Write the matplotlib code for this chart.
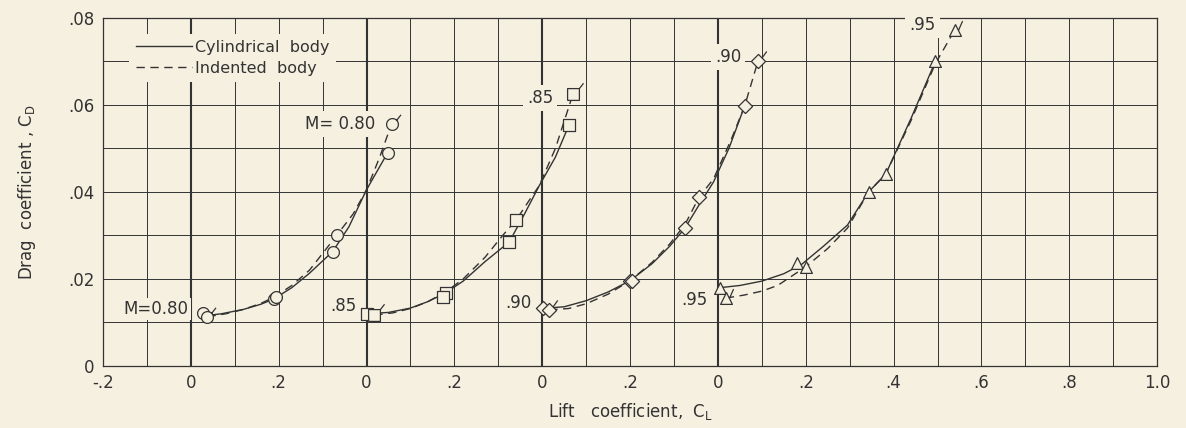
import numpy as np
import matplotlib
matplotlib.use("Agg")
import matplotlib.pyplot as plt
from matplotlib.path import Path

BG = "#f6f0e0"
INK = "#333333"

plt.rcParams['font.family'] = ['DejaVu Sans']
plt.rcParams['mathtext.default'] = 'regular'

# Mach numbers and the shift of each curve's CL origin along the axis
mach_names = ["0.80", "0.85", "0.90", "0.95"]
cl_shift = [0.0, 0.4, 0.8, 1.2]

# test points (CL measured from each curve's own origin)
cl_pts_cyl = [[0.027, 0.189, 0.323, 0.448],
              [0.000, 0.180, 0.325, 0.461],
              [0.002, 0.200, 0.325, 0.461],
              [0.005, 0.180, 0.343, 0.495]]
cd_pts_cyl = [[0.0122, 0.0154, 0.0263, 0.0490],
              [0.0120, 0.0168, 0.0285, 0.0554],
              [0.0133, 0.0196, 0.0317, 0.0598],
              [0.0180, 0.0237, 0.0400, 0.0700]]
cl_pts_ind = [[0.038, 0.195, 0.332, 0.457],
              [0.018, 0.175, 0.341, 0.470],
              [0.016, 0.205, 0.357, 0.491],
              [0.018, 0.200, 0.382, 0.539]]
cd_pts_ind = [[0.0113, 0.0158, 0.0300, 0.0556],
              [0.0117, 0.0159, 0.0336, 0.0625],
              [0.0129, 0.0196, 0.0388, 0.0700],
              [0.0156, 0.0228, 0.0441, 0.0772]]

# faired curves
cl_fair_cyl = [[0.03, 0.07, 0.12, 0.16, 0.189, 0.23, 0.27, 0.323, 0.36, 0.40, 0.448],
               [0.0, 0.05, 0.10, 0.14, 0.18, 0.22, 0.27, 0.325, 0.36, 0.393, 0.43, 0.461],
               [0.01, 0.05, 0.10, 0.15, 0.20, 0.25, 0.29, 0.325, 0.357, 0.39, 0.425, 0.461],
               [0.005, 0.05, 0.10, 0.15, 0.19, 0.24, 0.295, 0.343, 0.382, 0.44, 0.495]]
cd_fair_cyl = [[0.0115, 0.0120, 0.0130, 0.0142, 0.0154, 0.0180, 0.0213, 0.0263, 0.0320, 0.0405, 0.0490],
               [0.0120, 0.0123, 0.0133, 0.0148, 0.0168, 0.0195, 0.0240, 0.0285, 0.0350, 0.0414, 0.0480, 0.0554],
               [0.0133, 0.0136, 0.0150, 0.0170, 0.0196, 0.0235, 0.0275, 0.0317, 0.0370, 0.0423, 0.0500, 0.0598],
               [0.0180, 0.0185, 0.0195, 0.0212, 0.0233, 0.0275, 0.0324, 0.0400, 0.0441, 0.0570, 0.0700]]
cl_fair_ind = [[0.038, 0.08, 0.12, 0.16, 0.189, 0.23, 0.27, 0.305, 0.332, 0.37, 0.40, 0.43, 0.457],
               [0.018, 0.06, 0.10, 0.14, 0.18, 0.22, 0.27, 0.31, 0.341, 0.37, 0.393, 0.43, 0.47],
               [0.016, 0.06, 0.10, 0.15, 0.20, 0.25, 0.29, 0.325, 0.357, 0.39, 0.43, 0.461, 0.491],
               [0.018, 0.06, 0.10, 0.136, 0.20, 0.25, 0.295, 0.343, 0.382, 0.44, 0.495, 0.539]]
cd_fair_ind = [[0.0113, 0.0120, 0.0130, 0.0144, 0.0158, 0.0185, 0.0220, 0.0265, 0.0300, 0.0350, 0.0405, 0.0480, 0.0556],
               [0.0117, 0.0122, 0.0132, 0.0148, 0.0170, 0.0200, 0.0250, 0.0300, 0.0336, 0.0380, 0.0414, 0.0500, 0.0625],
               [0.0129, 0.0132, 0.0143, 0.0165, 0.0196, 0.0238, 0.0280, 0.0325, 0.0388, 0.0430, 0.0520, 0.0598, 0.0700],
               [0.0156, 0.0163, 0.0172, 0.0185, 0.0228, 0.0270, 0.0317, 0.0400, 0.0441, 0.0565, 0.0695, 0.0772]]

# curve labels: (rel CL, CD) bottom and top
bot_lab_pos = [(-0.005, 0.0132), (-0.023, 0.0138), (-0.025, 0.0145), (-0.023, 0.0152)]
top_lab_pos = [(0.42, 0.0556), (0.395, 0.0616), (0.423, 0.0710), (0.466, 0.0784)]
bot_lab_txt = ["M=0.80", ".85", ".90", ".95"]
top_lab_txt = ["M= 0.80", ".85", ".90", ".95"]

xtick_pos = [-0.2, 0.0, 0.2, 0.4, 0.6, 0.8, 1.0, 1.2, 1.4, 1.6, 1.8, 2.0, 2.2]
xtick_lab = ['-.2', '0', '.2', '0', '.2', '0', '.2', '0', '.2', '.4', '.6', '.8', '1.0']
ytick_pos = [0, 0.02, 0.04, 0.06, 0.08]
ytick_lab = ['0', '.02', '.04', '.06', '.08']


def shape_verts(kind):
    if kind == 'o':
        t = np.linspace(0, 2 * np.pi, 41)
        return np.column_stack([0.5 * np.cos(t), 0.5 * np.sin(t)]), (0.35, 0.35), (0.72, 0.82)
    if kind == 's':
        v = np.array([[-.5, -.5], [.5, -.5], [.5, .5], [-.5, .5], [-.5, -.5]])
        return v, (0.5, 0.5), (0.85, 0.95)
    if kind == 'D':
        r = 0.6
        v = np.array([[0, -r], [r, 0], [0, r], [-r, 0], [0, -r]])
        return v, (0.3, 0.3), (0.7, 0.85)
    v = np.array([[0, .5], [-.5, -.5], [.5, -.5], [0, .5]])
    return v, (0.25, 0.0), (0.6, 0.8)


def flagged_marker(kind):
    v, a, b = shape_verts(kind)
    codes = [Path.MOVETO] + [Path.LINETO] * (len(v) - 1) + [Path.MOVETO, Path.LINETO]
    verts = np.vstack([v, [a, b]])
    return Path(verts, codes), 2 * np.abs(verts).max()


def plain_marker(kind):
    v, a, b = shape_verts(kind)
    codes = [Path.MOVETO] + [Path.LINETO] * (len(v) - 1)
    return Path(v, codes), 2 * np.abs(v).max()


kinds = ['o', 's', 'D', '^']
ms = 8.5

fig = plt.figure(figsize=(11.86, 4.28), dpi=100, facecolor=BG)
ax = fig.add_axes([0.0868, 0.145, 0.8889, 0.813])
ax.set_facecolor(BG)
ax.set_xlim(-0.2, 2.2)
ax.set_ylim(0, 0.08)

for x in np.arange(-0.2, 2.201, 0.1):
    lw = 1.5 if any(abs(x - s) < 1e-6 for s in cl_shift) else 0.7
    ax.axvline(x, color=INK, lw=lw, zorder=1)
for y in np.arange(0, 0.0801, 0.01):
    ax.axhline(y, color=INK, lw=0.7, zorder=1)

for i in range(4):
    s = cl_shift[i]
    ax.plot(np.array(cl_fair_cyl[i]) + s, cd_fair_cyl[i], '-', color=INK, lw=1.0, zorder=3,
            label="Cylindrical  body" if i == 0 else None)
    ax.plot(np.array(cl_fair_ind[i]) + s, cd_fair_ind[i], '--', color=INK, lw=1.0, zorder=3,
            dashes=(6, 4), label="Indented  body" if i == 0 else None)
    pm, sc = plain_marker(kinds[i])
    ax.plot(np.array(cl_pts_cyl[i]) + s, cd_pts_cyl[i], ls='none', marker=pm, ms=ms * sc,
            mfc=BG, mec=INK, mew=0.9, zorder=4)
    ax.plot(np.array(cl_pts_ind[i][1:-1]) + s, cd_pts_ind[i][1:-1], ls='none', marker=pm, ms=ms * sc,
            mfc=BG, mec=INK, mew=0.9, zorder=4)
    fm, fsc = flagged_marker(kinds[i])
    ends = [0, -1]
    ax.plot([cl_pts_ind[i][k] + s for k in ends], [cd_pts_ind[i][k] for k in ends], ls='none',
            marker=fm, ms=ms * fsc, mfc=BG, mec=INK, mew=0.9, zorder=4)

    bx, by = bot_lab_pos[i]
    ax.text(bx + s, by, bot_lab_txt[i], ha='right', va='center', fontsize=12, color=INK, zorder=5,
            bbox=dict(facecolor=BG, edgecolor='none', pad=1.5))
    tx, ty = top_lab_pos[i]
    ax.text(tx + s, ty, top_lab_txt[i], ha='right' if i == 0 else 'center', va='center',
            fontsize=12, color=INK, zorder=5, bbox=dict(facecolor=BG, edgecolor='none', pad=3))

leg = ax.legend(loc='upper left', bbox_to_anchor=(0.025, 0.955), borderaxespad=0, frameon=True,
                facecolor=BG, edgecolor='none', framealpha=1, fontsize=11.5, handlelength=3.5,
                handletextpad=0.2, borderpad=0.4, labelspacing=0.35, fancybox=False)
leg.set_zorder(6)
for t in leg.get_texts():
    t.set_color(INK)

for sp in ax.spines.values():
    sp.set_color(INK)
    sp.set_linewidth(0.9)

ax.set_xticks(xtick_pos)
ax.set_xticklabels(xtick_lab)
ax.set_yticks(ytick_pos)
ax.set_yticklabels(ytick_lab)
ax.tick_params(length=0, labelsize=12, colors=INK, pad=6)

ax.set_xlabel(r'Lift   coefficient,  C$_L$', fontsize=12, color=INK, labelpad=6)
ax.set_ylabel(r'Drag  coefficient , C$_D$', fontsize=12, color=INK, labelpad=22)

fig.savefig("out.png", dpi=100, facecolor=BG)
